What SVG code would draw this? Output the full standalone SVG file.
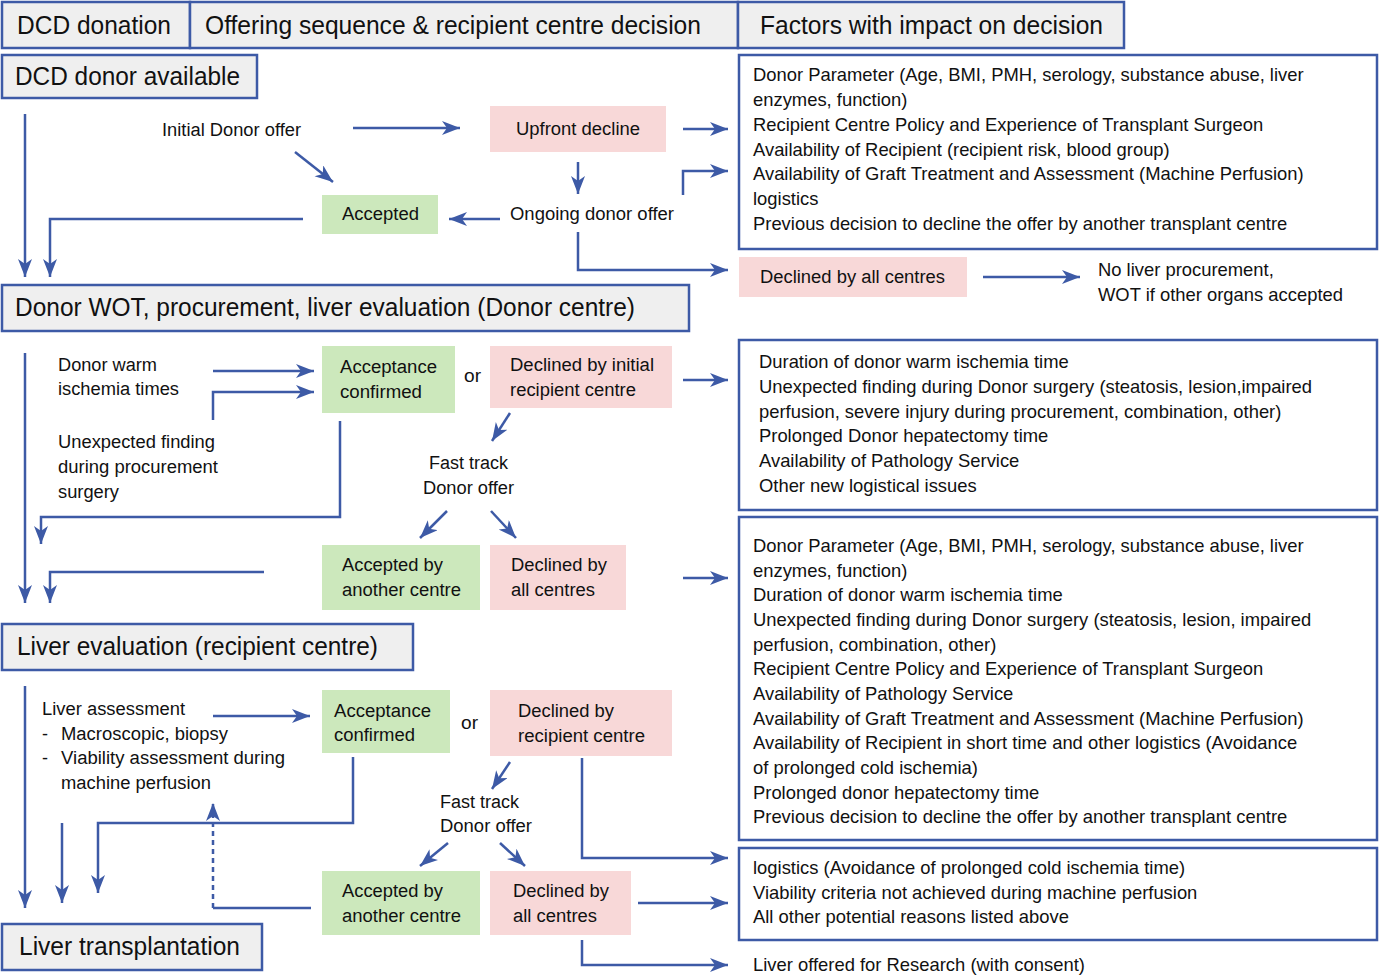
<svg xmlns="http://www.w3.org/2000/svg" width="1379" height="975" viewBox="0 0 1379 975">
<style>
.hb{fill:#efefef;stroke:#3d5aa6;stroke-width:2.5}
.fb{fill:#ffffff;stroke:#3d5aa6;stroke-width:2.5}
.pk{fill:#f8d8d8}
.gr{fill:#cce8bc}
.ht{font-family:"Liberation Sans",Arial,sans-serif;font-size:25px;fill:#111}
.ct{font-family:"Liberation Sans",Arial,sans-serif;font-size:18px;fill:#111}
.rt{font-family:"Liberation Sans",Arial,sans-serif;font-size:18.4px;fill:#111}
.ln{fill:none;stroke:#3d5aa6;stroke-width:2.5}
.ar{marker-end:url(#ah)}
.dash{stroke-dasharray:5,4}
</style>
<defs>
<marker id="ah" markerUnits="userSpaceOnUse" markerWidth="20" markerHeight="16" refX="18" refY="7" orient="auto">
<path d="M0,0 L18,7 L0,14 L5,7 z" fill="#3d5aa6"/>
</marker>
</defs>
<rect width="1379" height="975" fill="#ffffff"/>

<g id="header">
<rect class="hb" x="2" y="2" width="188" height="46"/>
<text class="ht" x="17" y="34" textLength="154" lengthAdjust="spacingAndGlyphs">DCD donation</text>
<rect class="hb" x="190" y="2" width="548" height="46"/>
<text class="ht" x="205" y="34" textLength="496" lengthAdjust="spacingAndGlyphs">Offering sequence &amp; recipient centre decision</text>
<rect class="hb" x="738" y="2" width="386" height="46"/>
<text class="ht" x="760" y="34" textLength="343" lengthAdjust="spacingAndGlyphs">Factors with impact on decision</text>
</g>

<g id="donor-available">
<rect class="hb" x="2" y="55" width="255" height="43"/>
<text class="ht" x="15" y="85" textLength="225" lengthAdjust="spacingAndGlyphs">DCD donor available</text>
</g>

<g id="initial-offer"><text class="ct" x="162" y="136" textLength="139" lengthAdjust="spacingAndGlyphs">Initial Donor offer</text></g>
<g id="upfront-decline">
<rect class="pk" x="490" y="106" width="176" height="46"/>
<text class="ct" x="516" y="135" textLength="124" lengthAdjust="spacingAndGlyphs">Upfront decline</text>
</g>
<g id="ongoing-offer"><text class="ct" x="510" y="220" textLength="164" lengthAdjust="spacingAndGlyphs">Ongoing donor offer</text></g>
<g id="accepted">
<rect class="gr" x="322" y="195" width="116" height="39"/>
<text class="ct" x="342" y="220" textLength="77" lengthAdjust="spacingAndGlyphs">Accepted</text>
</g>
<g id="declined-all-1">
<rect class="pk" x="739" y="257" width="228" height="40"/>
<text class="ct" x="760" y="283" textLength="185" lengthAdjust="spacingAndGlyphs">Declined by all centres</text>
</g>
<g id="no-procurement">
<text class="rt" x="1098" y="276">No liver procurement,</text>
<text class="rt" x="1098" y="301">WOT if other organs accepted</text>
</g>

<g id="factors-1">
<rect class="fb" x="739" y="55" width="638" height="194"/>
<text class="rt" x="753" y="81">Donor Parameter (Age, BMI, PMH, serology, substance abuse, liver</text>
<text class="rt" x="753" y="106">enzymes, function)</text>
<text class="rt" x="753" y="131">Recipient Centre Policy and Experience of Transplant Surgeon</text>
<text class="rt" x="753" y="156">Availability of Recipient (recipient risk, blood group)</text>
<text class="rt" x="753" y="180">Availability of Graft Treatment and Assessment (Machine Perfusion)</text>
<text class="rt" x="753" y="205">logistics</text>
<text class="rt" x="753" y="230">Previous decision to decline the offer by another transplant centre</text>
</g>

<g id="donor-wot">
<rect class="hb" x="2" y="285" width="687" height="46"/>
<text class="ht" x="15" y="316" textLength="620" lengthAdjust="spacingAndGlyphs">Donor WOT, procurement, liver evaluation (Donor centre)</text>
</g>

<g id="warm-ischemia">
<text class="ct" x="58" y="371" textLength="99" lengthAdjust="spacingAndGlyphs">Donor warm</text>
<text class="ct" x="58" y="395" textLength="121" lengthAdjust="spacingAndGlyphs">ischemia times</text>
</g>
<g id="unexpected-finding">
<text class="ct" x="58" y="448" textLength="157" lengthAdjust="spacingAndGlyphs">Unexpected finding</text>
<text class="ct" x="58" y="473" textLength="160" lengthAdjust="spacingAndGlyphs">during procurement</text>
<text class="ct" x="58" y="498" textLength="61" lengthAdjust="spacingAndGlyphs">surgery</text>
</g>
<g id="acceptance-confirmed-1">
<rect class="gr" x="322" y="346" width="133" height="67"/>
<text class="ct" x="340" y="373" textLength="97" lengthAdjust="spacingAndGlyphs">Acceptance</text>
<text class="ct" x="340" y="398" textLength="82" lengthAdjust="spacingAndGlyphs">confirmed</text>
</g>
<g id="or-1"><text class="ct" x="464" y="382" textLength="17" lengthAdjust="spacingAndGlyphs">or</text></g>
<g id="declined-initial">
<rect class="pk" x="490" y="346" width="182" height="62"/>
<text class="ct" x="510" y="371" textLength="144" lengthAdjust="spacingAndGlyphs">Declined by initial</text>
<text class="ct" x="510" y="396" textLength="126" lengthAdjust="spacingAndGlyphs">recipient centre</text>
</g>
<g id="fast-track-1">
<text class="ct" x="429" y="469" textLength="79" lengthAdjust="spacingAndGlyphs">Fast track</text>
<text class="ct" x="423" y="494" textLength="91" lengthAdjust="spacingAndGlyphs">Donor offer</text>
</g>
<g id="accepted-another-1">
<rect class="gr" x="322" y="545" width="158" height="65"/>
<text class="ct" x="342" y="571" textLength="101" lengthAdjust="spacingAndGlyphs">Accepted by</text>
<text class="ct" x="342" y="596" textLength="119" lengthAdjust="spacingAndGlyphs">another centre</text>
</g>
<g id="declined-all-2">
<rect class="pk" x="490" y="545" width="136" height="65"/>
<text class="ct" x="511" y="571" textLength="96" lengthAdjust="spacingAndGlyphs">Declined by</text>
<text class="ct" x="511" y="596" textLength="84" lengthAdjust="spacingAndGlyphs">all centres</text>
</g>

<g id="factors-2">
<rect class="fb" x="739" y="340" width="638" height="170"/>
<text class="rt" x="759" y="368">Duration of donor warm ischemia time</text>
<text class="rt" x="759" y="393">Unexpected finding during Donor surgery (steatosis, lesion,impaired</text>
<text class="rt" x="759" y="418">perfusion, severe injury during procurement, combination, other)</text>
<text class="rt" x="759" y="442">Prolonged Donor hepatectomy time</text>
<text class="rt" x="759" y="467">Availability of Pathology Service</text>
<text class="rt" x="759" y="492">Other new logistical issues</text>
</g>

<g id="factors-3">
<rect class="fb" x="739" y="517" width="638" height="323"/>
<text class="rt" x="753" y="552">Donor Parameter (Age, BMI, PMH, serology, substance abuse, liver</text>
<text class="rt" x="753" y="577">enzymes, function)</text>
<text class="rt" x="753" y="601">Duration of donor warm ischemia time</text>
<text class="rt" x="753" y="626">Unexpected finding during Donor surgery (steatosis, lesion, impaired</text>
<text class="rt" x="753" y="651">perfusion, combination, other)</text>
<text class="rt" x="753" y="675">Recipient Centre Policy and Experience of Transplant Surgeon</text>
<text class="rt" x="753" y="700">Availability of Pathology Service</text>
<text class="rt" x="753" y="725">Availability of Graft Treatment and Assessment (Machine Perfusion)</text>
<text class="rt" x="753" y="749">Availability of Recipient in short time and other logistics (Avoidance</text>
<text class="rt" x="753" y="774">of prolonged cold ischemia)</text>
<text class="rt" x="753" y="799">Prolonged donor hepatectomy time</text>
<text class="rt" x="753" y="823">Previous decision to decline the offer by another transplant centre</text>
</g>

<g id="liver-evaluation">
<rect class="hb" x="2" y="624" width="411" height="46"/>
<text class="ht" x="17" y="655" textLength="361" lengthAdjust="spacingAndGlyphs">Liver evaluation (recipient centre)</text>
</g>

<g id="liver-assessment">
<text class="ct" x="42" y="715" textLength="143" lengthAdjust="spacingAndGlyphs">Liver assessment</text>
<text class="ct" x="42" y="740">-</text>
<text class="ct" x="61" y="740" textLength="167" lengthAdjust="spacingAndGlyphs">Macroscopic, biopsy</text>
<text class="ct" x="42" y="764">-</text>
<text class="ct" x="61" y="764" textLength="224" lengthAdjust="spacingAndGlyphs">Viability assessment during</text>
<text class="ct" x="61" y="789" textLength="150" lengthAdjust="spacingAndGlyphs">machine perfusion</text>
</g>
<g id="acceptance-confirmed-2">
<rect class="gr" x="322" y="690" width="128" height="63"/>
<text class="ct" x="334" y="717" textLength="97" lengthAdjust="spacingAndGlyphs">Acceptance</text>
<text class="ct" x="334" y="741" textLength="81" lengthAdjust="spacingAndGlyphs">confirmed</text>
</g>
<g id="or-2"><text class="ct" x="461" y="729" textLength="17" lengthAdjust="spacingAndGlyphs">or</text></g>
<g id="declined-recipient">
<rect class="pk" x="490" y="690" width="182" height="66"/>
<text class="ct" x="518" y="717" textLength="96" lengthAdjust="spacingAndGlyphs">Declined by</text>
<text class="ct" x="518" y="742" textLength="127" lengthAdjust="spacingAndGlyphs">recipient centre</text>
</g>
<g id="fast-track-2">
<text class="ct" x="440" y="808" textLength="79" lengthAdjust="spacingAndGlyphs">Fast track</text>
<text class="ct" x="440" y="832" textLength="92" lengthAdjust="spacingAndGlyphs">Donor offer</text>
</g>
<g id="accepted-another-2">
<rect class="gr" x="322" y="871" width="158" height="64"/>
<text class="ct" x="342" y="897" textLength="101" lengthAdjust="spacingAndGlyphs">Accepted by</text>
<text class="ct" x="342" y="922" textLength="119" lengthAdjust="spacingAndGlyphs">another centre</text>
</g>
<g id="declined-all-3">
<rect class="pk" x="490" y="871" width="141" height="64"/>
<text class="ct" x="513" y="897" textLength="96" lengthAdjust="spacingAndGlyphs">Declined by</text>
<text class="ct" x="513" y="922" textLength="84" lengthAdjust="spacingAndGlyphs">all centres</text>
</g>

<g id="factors-4">
<rect class="fb" x="739" y="848" width="638" height="92"/>
<text class="rt" x="753" y="874">logistics (Avoidance of prolonged cold ischemia time)</text>
<text class="rt" x="753" y="899">Viability criteria not achieved during machine perfusion</text>
<text class="rt" x="753" y="923">All other potential reasons listed above</text>
</g>
<g id="research"><text class="rt" x="753" y="971">Liver offered for Research (with consent)</text></g>

<g id="liver-transplantation">
<rect class="hb" x="2" y="924" width="260" height="46"/>
<text class="ht" x="19" y="955" textLength="221" lengthAdjust="spacingAndGlyphs">Liver transplantation</text>
</g>

<g id="connectors">
<line class="ln ar" x1="25" y1="114" x2="25" y2="277"/>
<polyline class="ln ar" points="303,219 50,219 50,277"/>
<line class="ln ar" x1="353" y1="128" x2="460" y2="128"/>
<line class="ln ar" x1="295" y1="152" x2="333" y2="182"/>
<line class="ln ar" x1="683" y1="129" x2="728" y2="129"/>
<line class="ln ar" x1="578" y1="162" x2="578" y2="194"/>
<line class="ln ar" x1="500" y1="219" x2="449" y2="219"/>
<polyline class="ln ar" points="683,195 683,171 728,171"/>
<polyline class="ln ar" points="578,232 578,270 728,270"/>
<line class="ln ar" x1="983" y1="277" x2="1080" y2="277"/>
<line class="ln ar" x1="25" y1="353" x2="25" y2="603"/>
<polyline class="ln ar" points="264,572 50,572 50,603"/>
<line class="ln ar" x1="213" y1="371" x2="314" y2="371"/>
<polyline class="ln ar" points="213,420 213,392 314,392"/>
<polyline class="ln ar" points="340,421 340,517 41,517 41,544"/>
<line class="ln ar" x1="683" y1="380" x2="728" y2="380"/>
<line class="ln ar" x1="510" y1="413" x2="492" y2="441"/>
<line class="ln ar" x1="447" y1="511" x2="420" y2="538"/>
<line class="ln ar" x1="491" y1="511" x2="516" y2="538"/>
<line class="ln ar" x1="683" y1="578" x2="728" y2="578"/>
<line class="ln ar" x1="25" y1="686" x2="25" y2="908"/>
<line class="ln ar" x1="62" y1="823" x2="62" y2="903"/>
<polyline class="ln ar" points="353,757 353,823 98,823 98,893"/>
<line class="ln ar" x1="213" y1="716" x2="310" y2="716"/>
<line class="ln ar" x1="510" y1="762" x2="492" y2="789"/>
<line class="ln ar" x1="448" y1="843" x2="420" y2="866"/>
<line class="ln ar" x1="500" y1="843" x2="525" y2="866"/>
<polyline class="ln ar" points="582,758 582,858 728,858"/>
<line class="ln" x1="311" y1="908" x2="213" y2="908"/>
<line class="ln ar dash" x1="213" y1="908" x2="213" y2="803"/>
<line class="ln ar" x1="638" y1="903" x2="728" y2="903"/>
<polyline class="ln ar" points="582,940 582,965 728,965"/>
</g>
</svg>
